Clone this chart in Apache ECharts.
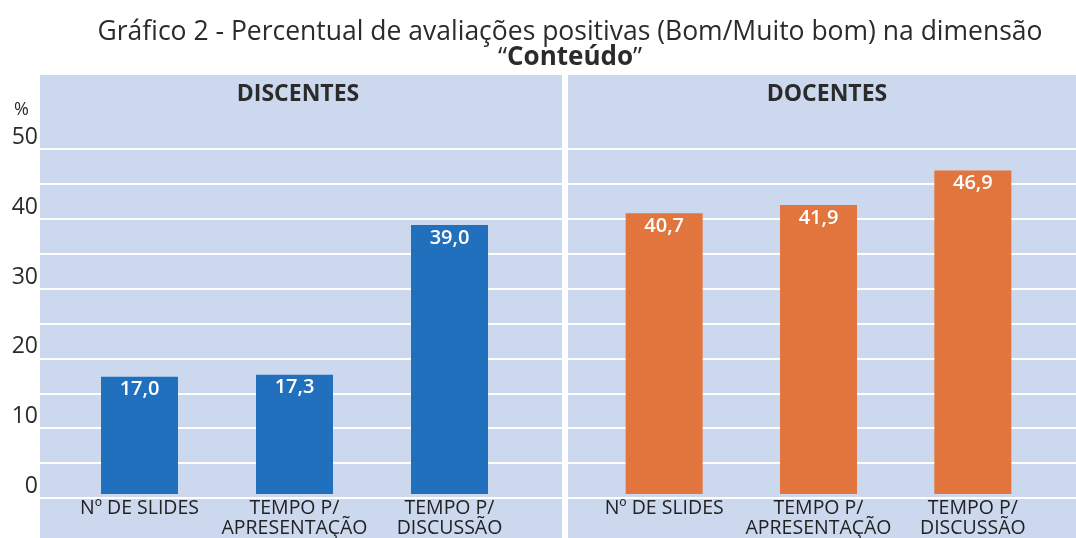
<!DOCTYPE html>
<html>
<head>
<meta charset="utf-8">
<script src="https://cdn.jsdelivr.net/npm/echarts@6/dist/echarts.min.js"></script>
<style>
  html, body { margin: 0; padding: 0; background: #fff; }
  #chart { width: 1076px; height: 538px; }
</style>
</head>
<body>
<div id="chart"></div>
<script>
// dados
var categorias = ['Nº DE SLIDES', 'TEMPO P/\nAPRESENTAÇÃO', 'TEMPO P/\nDISCUSSÃO'];
var discentes = [17.0, 17.3, 39.0];
var docentes = [40.7, 41.9, 46.9];
var yMin = 0, yMax = 50, yStep = 5;

var panelColor = '#cbd8ee';
var fonte = '"Open Sans", "Noto Sans", sans-serif';

function fmt(v) {
    return v.toFixed(1).replace('.', ',');
}

var chart = echarts.init(document.getElementById('chart'));

// eixo y de fundo (linhas brancas)
function bgY(idx, showLabel) {
    return {
        gridIndex: idx, type: 'value', min: yMin, max: yMax, interval: yStep,
        axisLine: { show: false }, axisTick: { show: false },
        splitLine: { show: true, lineStyle: { color: '#ffffff', width: 2 } },
        axisLabel: {
            show: showLabel, color: '#2b2b2b', fontSize: 23, fontFamily: fonte,
            verticalAlign: 'bottom', margin: 2,
            formatter: function (v) { return v % 10 === 0 ? String(v) : ''; }
        }
    };
}
function barY(idx) {
    return {
        gridIndex: idx, type: 'value', min: yMin, max: yMax, interval: yStep,
        axisLine: { show: false }, axisTick: { show: false },
        splitLine: { show: false }, axisLabel: { show: false }
    };
}
function barX(idx) {
    return {
        gridIndex: idx, type: 'category', data: categorias,
        axisLine: { show: false }, axisTick: { show: false },
        axisLabel: {
            interval: 0, color: '#222', fontSize: 19.5, fontFamily: fonte,
            lineHeight: 20, margin: 4
        }
    };
}
function hiddenX(idx) {
    return { gridIndex: idx, type: 'value', show: false, min: 0, max: 1 };
}
function barSeries(idx, data, color) {
    return {
        type: 'bar', xAxisIndex: idx, yAxisIndex: idx, data: data,
        barWidth: 77, itemStyle: { color: color },
        label: {
            show: true, position: 'insideTop', distance: 3, color: '#fff',
            fontSize: 20, fontWeight: 600, fontFamily: fonte,
            formatter: function (p) { return fmt(p.value); }
        }
    };
}

var option = {
    backgroundColor: '#fff',
    animation: false,
    title: [
        {
            text: 'Gráfico 2 - Percentual de avaliações positivas (Bom/Muito bom) na dimensão',
            left: 565, top: 14, textAlign: 'center',
            textStyle: { fontSize: 26.5, fontWeight: 'normal', color: '#2b2b2b', fontFamily: fonte }
        },
        {
            text: '“{b|Conteúdo}”',
            left: 565, top: 40, textAlign: 'center',
            textStyle: {
                fontSize: 26, fontWeight: 'normal', color: '#2b2b2b', fontFamily: fonte,
                rich: { b: { fontSize: 26, fontWeight: 'bold', color: '#2b2b2b', fontFamily: fonte } }
            }
        },
        {
            text: 'DISCENTES', left: 293, top: 78, textAlign: 'center',
            textStyle: { fontSize: 23, fontWeight: 'bold', color: '#2b2b2b', fontFamily: fonte }
        },
        {
            text: 'DOCENTES', left: 822, top: 78, textAlign: 'center',
            textStyle: { fontSize: 23, fontWeight: 'bold', color: '#2b2b2b', fontFamily: fonte }
        },
        {
            text: '%', left: 9, top: 96,
            textStyle: { fontSize: 18, fontWeight: 'normal', color: '#2b2b2b', fontFamily: fonte }
        }
    ],
    graphic: [
        { type: 'rect', shape: { x: 40, y: 75, width: 522, height: 463 }, style: { fill: panelColor }, z: -10 },
        { type: 'rect', shape: { x: 568, y: 75, width: 508, height: 463 }, style: { fill: panelColor }, z: -10 }
    ],
    grid: [
        { left: 40, right: 514, top: 149, bottom: 40 },
        { left: 568, right: 0, top: 149, bottom: 40 },
        { left: 62, right: 549, top: 149, bottom: 40 },
        { left: 587, right: 26, top: 149, bottom: 40 }
    ],
    xAxis: [hiddenX(0), hiddenX(1), barX(2), barX(3)],
    yAxis: [bgY(0, true), bgY(1, false), barY(2), barY(3)],
    series: [
        barSeries(2, discentes, '#2070be'),
        barSeries(3, docentes, '#e2743d')
    ]
};

chart.setOption(option);
</script>
</body>
</html>
